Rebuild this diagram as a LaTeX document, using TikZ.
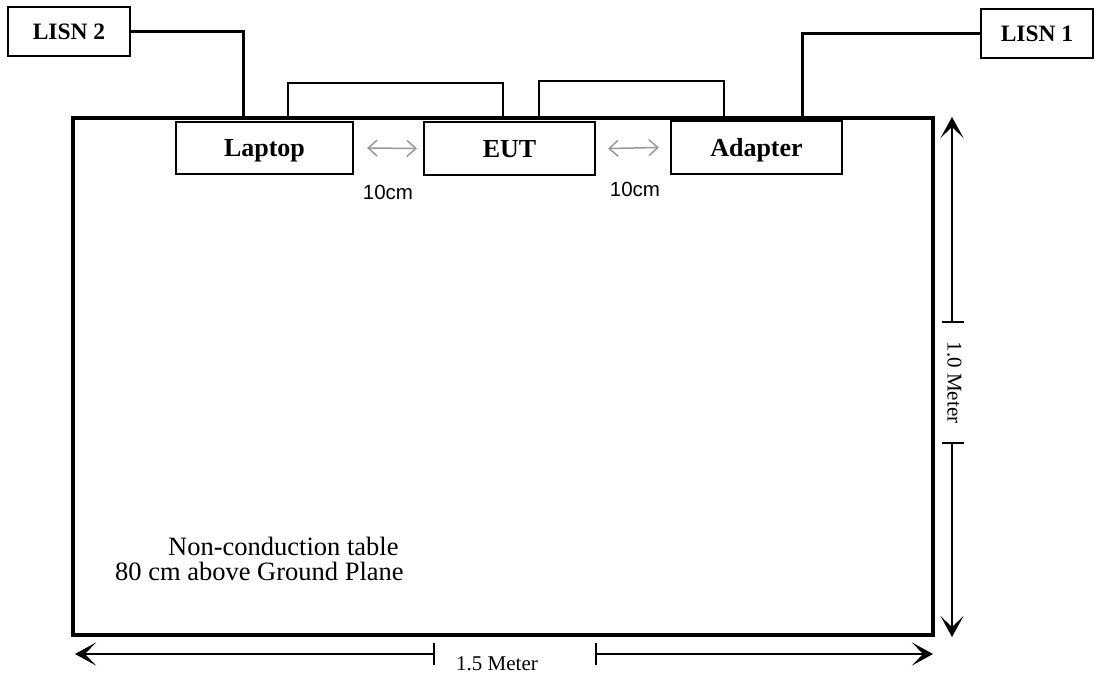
\documentclass[tikz,border=0pt]{standalone}
\usepackage{fontspec}
\setmainfont{Liberation Serif}
\newfontfamily\arialfont{Liberation Sans}
\usetikzlibrary{arrows.meta}

\begin{document}
\begin{tikzpicture}[x=1pt,y=-1pt,
  box/.style={draw, line width=2pt, fill=white, inner sep=0pt,
    text height=21pt, text depth=3pt,
    font=\fontsize{26}{30}\selectfont\bfseries},
  lisnbox/.style={box, text height=19pt, text depth=3pt,
    font=\fontsize{23.5}{28}\selectfont\bfseries},
  tablebox/.style={draw, line width=3.5pt, inner sep=0pt},
  wire/.style={line width=3pt},
  cable/.style={line width=1.6pt},
  gaparrow/.style={line width=1.5pt, black!40,
    {Straight Barb[length=9pt,width=16pt]}-{Straight Barb[length=9pt,width=16pt]}},
  dimline/.style={line width=1.3pt, -{Stealth[length=21pt,width=23pt,inset=11pt]}},
  dimtick/.style={line width=1.3pt},
  gaplabel/.style={font=\arialfont\fontsize{20.5}{24}\selectfont, inner sep=0pt},
  dimlabel/.style={font=\fontsize{21}{25}\selectfont, inner sep=0pt},
  note/.style={font=\fontsize{26.5}{30}\selectfont, inner sep=0pt, anchor=base west},
]
\useasboundingbox (0,0) rectangle (1096,676);

% table outline
\node[tablebox, minimum width=860pt, minimum height=517pt] (table) at (503,376.5) {};

% LISN units
\node[lisnbox, minimum width=122pt, minimum height=49pt] (lisn2) at (69,31.5) {LISN 2};
\node[lisnbox, minimum width=112pt, minimum height=49pt] (lisn1) at (1037,33.5) {LISN 1};

% power wires from the LISNs down to the table edge
\coordinate (w2) at (243,118);
\coordinate (w1) at (802,118);
\draw[wire] (lisn2.east) -| (w2);
\draw[wire] (lisn1.west) -| (w1);

% interconnect cables
\coordinate (c1s) at (288,118);
\coordinate (c1e) at (503,118);
\coordinate (c2s) at (539,118);
\coordinate (c2e) at (724,118);
\draw[cable] (c1s) -- ++(0,-35) -| (c1e);
\draw[cable] (c2s) -- ++(0,-37) -| (c2e);

% devices on the table
\node[box, minimum width=177pt, minimum height=52pt] (laptop) at (264.5,148) {Laptop};
\node[box, minimum width=171pt, minimum height=53pt] (eut) at (509.5,148.5) {EUT};
\node[box, minimum width=171pt, minimum height=53pt] (adapter) at (756.5,147.5) {Adapter};

% 10 cm spacing
\draw[gaparrow] ([xshift=13pt]laptop.east) -- ([xshift=-6pt]eut.west);
\draw[gaparrow] ([xshift=12pt]eut.east) -- ([xshift=-11pt]adapter.west);
\node[gaplabel] (gap1) at (388,192.5) {10cm};
\node[gaplabel] (gap2) at (635,189.5) {10cm};

% table note
\node[note] (note1) at (168,555) {Non-conduction table};
\node[note] (note2) at (115,580) {80 cm above Ground Plane};

% depth dimension
\coordinate (vtop) at (952,117);
\coordinate (vt1) at (952,322);
\coordinate (vt2) at (952,443);
\coordinate (vbot) at (952,637);
\draw[dimline] (vt1) -- (vtop);
\draw[dimline] (vt2) -- (vbot);
\draw[dimtick] ([xshift=-10pt]vt1) -- ([xshift=12pt]vt1);
\draw[dimtick] ([xshift=-10pt]vt2) -- ([xshift=12pt]vt2);
\node[dimlabel, rotate=-90] (depth) at (954.5,382.5) {1.0 Meter};

% width dimension
\coordinate (hl) at (75,654);
\coordinate (ht1) at (434,654);
\coordinate (ht2) at (596,654);
\coordinate (hr) at (933,654);
\draw[dimline] (ht1) -- (hl);
\draw[dimline] (ht2) -- (hr);
\draw[dimtick] ([yshift=11pt]ht1) -- ([yshift=-11pt]ht1);
\draw[dimtick] ([yshift=11pt]ht2) -- ([yshift=-11pt]ht2);
\node[dimlabel, anchor=base] (width) at (497,670) {1.5 Meter};
\end{tikzpicture}
\end{document}
